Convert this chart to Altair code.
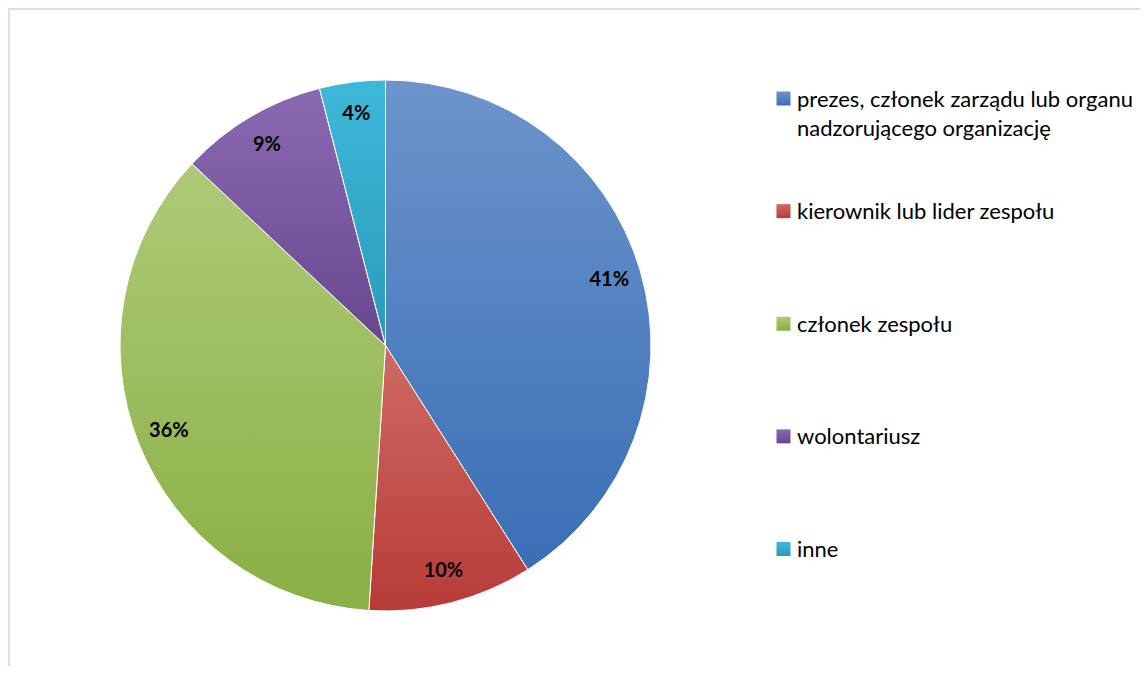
import altair as alt
import pandas as pd

keys = ["prezes", "kierownik", "czlonek", "wolontariusz", "inne"]
categories = [
    "prezes, członek zarządu lub organu\nnadzorującego organizację",
    "kierownik lub lider zespołu",
    "członek zespołu",
    "wolontariusz",
    "inne",
]
values = [41, 10, 36, 9, 4]
labels = ["41%", "10%", "36%", "9%", "4%"]
top_colors = ["#6C94CC", "#D06A64", "#AECA78", "#8A69B3", "#3EB8DA"]
bottom_colors = ["#3A6EB5", "#B73B37", "#8AAF44", "#69478F", "#2A9BBA"]

df = pd.DataFrame({
    "key": keys,
    "category": categories,
    "value": values,
    "label": labels,
    "order": list(range(len(keys))),
})

W, H = 1132, 658
CX, CY = 377.5, 337.5
R = 265.5
FONT = "Lato"

theta_scale = alt.Scale(domain=[0, 100], range=[0, 6.283185307179586])

base = alt.Chart(df).transform_window(
    end="sum(value)", sort=[alt.SortField("order")], frame=[None, 0]
).transform_calculate(
    start="datum.end - datum.value"
).transform_calculate(
    mid="(datum.start + datum.end) / 2"
)


def grad(i):
    return alt.Gradient(
        gradient="linear",
        stops=[
            alt.GradientStop(offset=0, color=top_colors[i]),
            alt.GradientStop(offset=1, color=bottom_colors[i]),
        ],
        x1=0, x2=0, y1=0, y2=1,
    )


layers = []
for i, k in enumerate(keys):
    layers.append(
        base.transform_filter(alt.datum.key == k)
        .mark_arc(fill=grad(i), stroke="white", strokeWidth=1, outerRadius=R)
        .encode(
            theta=alt.Theta("start:Q", scale=theta_scale, stack=False),
            theta2="end:Q",
            x=alt.value(CX),
            y=alt.value(CY),
        )
    )

layers.append(
    base.mark_text(font=FONT, fontSize=20, fontWeight="bold", color="black", radius=233)
    .encode(
        theta=alt.Theta("mid:Q", scale=theta_scale, stack=False),
        text="label:N",
        x=alt.value(CX),
        y=alt.value(CY),
    )
)

legend_y = alt.Y("key:N", sort=keys,
                 scale=alt.Scale(type="point", domain=keys, range=[90.5, 541], padding=0),
                 axis=None)

for i, k in enumerate(keys):
    layers.append(
        base.transform_filter(alt.datum.key == k)
        .mark_square(size=196, fill=grad(i), opacity=1, strokeWidth=0)
        .encode(y=legend_y, x=alt.value(775.5))
    )

layers.append(
    base.mark_text(font=FONT, fontSize=22, color="black", align="left",
                   baseline="alphabetic", dy=8, lineBreak="\n", lineHeight=29)
    .encode(y=legend_y, x=alt.value(789), text="category:N")
)

frame_color = "#D6E0EF"
layers.append(
    base.transform_filter(alt.datum.order == 0)
    .mark_rule(color=frame_color, strokeWidth=2)
    .encode(x=alt.value(1), y=alt.value(0), y2=alt.value(H + 10))
)
layers.append(
    base.transform_filter(alt.datum.order == 0)
    .mark_rule(color=frame_color, strokeWidth=2)
    .encode(x=alt.value(0), x2=alt.value(W + 20), y=alt.value(1))
)

chart = alt.layer(*layers).properties(
    width=W, height=H, padding=0, autosize="none"
).configure_view(strokeWidth=0, stroke="transparent").configure(background="white")

chart.save("out.html", embed_options={"renderer": "svg", "actions": False})
